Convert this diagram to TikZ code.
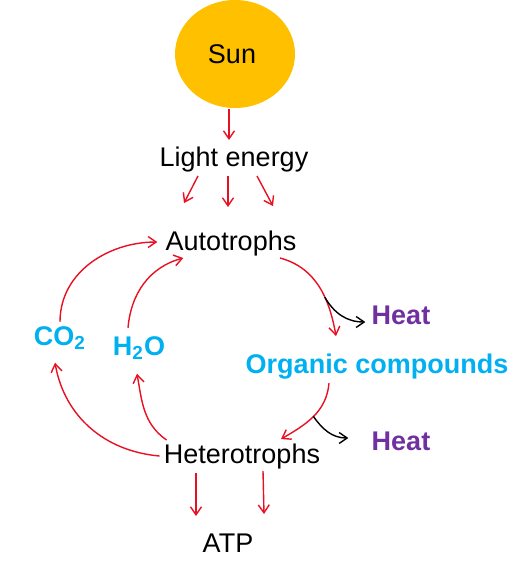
\documentclass[tikz,border=0pt]{standalone}
\usepackage{fontspec}
\setmainfont{Liberation Sans}
\usetikzlibrary{positioning,arrows.meta,shapes.geometric,calc}
\definecolor{sunyellow}{RGB}{255,192,0}
\definecolor{cycleblue}{RGB}{0,176,240}
\definecolor{heatpurple}{RGB}{112,48,160}
\definecolor{flowred}{RGB}{232,17,35}
\begin{document}
\begin{tikzpicture}[
    x=0.5pt, y=-0.5pt,
    >={Straight Barb[length=4pt,width=5.5pt]},
    sunball/.style={
        ellipse,
        fill=sunyellow,
        inner sep=0pt,
        minimum width=60pt,
        minimum height=54pt,
        font=\fontsize{13.5}{16}\selectfont
    },
    label/.style={
        inner sep=2pt,
        font=\fontsize{13.5}{16}\selectfont
    },
    compound/.style={
        inner sep=2pt,
        text=cycleblue,
        font=\fontsize{13.5}{16}\selectfont\bfseries
    },
    heat/.style={
        inner sep=2pt,
        text=heatpurple,
        font=\fontsize{13.5}{16}\selectfont\bfseries
    },
    redarrow/.style={->, draw=flowred, line width=0.7pt},
    heatarrow/.style={->, draw=black, line width=0.7pt}
]
\useasboundingbox (0,0) rectangle (522,578);

\node[sunball] (sun) at (235,54) {};
\node[label, anchor=base] (suntext) at (232,63) {Sun};

% ENERGY INTO THE CYCLE
\node[label, anchor=base] (light) at (234,166) {Light energy};
\node[label, anchor=base] (auto) at (231,250) {Autotrophs};

\draw[redarrow] ($(sun.south)+(-6,1)$) -- ($(light.north)+(-5,-2)$);
\draw[redarrow] ($(light.south)+(-36,0)$) -- ($(auto.north)+(-47,-23)$);
\draw[redarrow] ($(light.south)+(-6,0)$) -- ($(auto.north)+(-3,-19)$);
\draw[redarrow] ($(light.south)+(23,0)$) -- ($(auto.north)+(42,-20)$);

% RIGHT SIDE OF THE CYCLE
\node[compound, anchor=base] (organic) at (377,373) {Organic compounds};
\node[heat, anchor=base] (heat1) at (401,324) {Heat};
\node[heat, anchor=base] (heat2) at (401,450) {Heat};
\node[label, anchor=base] (hetero) at (242,463) {Heterotrophs};

\draw[redarrow] ($(auto.south)+(49,-2)$) to[out=-15,in=100]
    coordinate[pos=0.62] (heatfrom1) ($(organic.north)+(-41,-13)$);
\draw[heatarrow] (heatfrom1) to[out=-60,in=180] ($(heat1.base west)+(-2,-2)$);

\draw[redarrow] ($(organic.south)+(-48,0)$) to[out=-95,in=30]
    coordinate[pos=0.5] (heatfrom2) ($(hetero.north)+(39,0)$);
\draw[heatarrow] (heatfrom2) to[out=-55,in=180] ($(heat2.base west)+(-19,-12)$);

% LEFT SIDE OF THE CYCLE
\node[compound, anchor=base] (co2) at (60,345) {CO\textsubscript{2}};
\node[compound, anchor=base] (h2o) at (139,355) {H\textsubscript{2}O};

\draw[redarrow] (hetero.west) to[out=175,in=-80] ($(co2.south)+(-5,9)$);
\draw[redarrow] ($(hetero.north west)+(7,1)$) to[out=145,in=-80] ($(h2o.south)+(-2,10)$);
\draw[redarrow] (co2.north) to[out=90,in=180] ($(auto.west)+(-4,-1)$);
\draw[redarrow] ($(h2o.north)+(-11,-4)$) to[out=85,in=195] ($(auto.south west)+(22,-2)$);

% ATP
\node[label, anchor=base] (atp) at (228,552) {ATP};

\draw[redarrow] ($(hetero.south)+(-46,0)$) -- ($(atp.north)+(-32,-13)$);
\draw[redarrow] ($(hetero.south)+(21,-2)$) -- ($(atp.north)+(36,-15)$);

\end{tikzpicture}
\end{document}
